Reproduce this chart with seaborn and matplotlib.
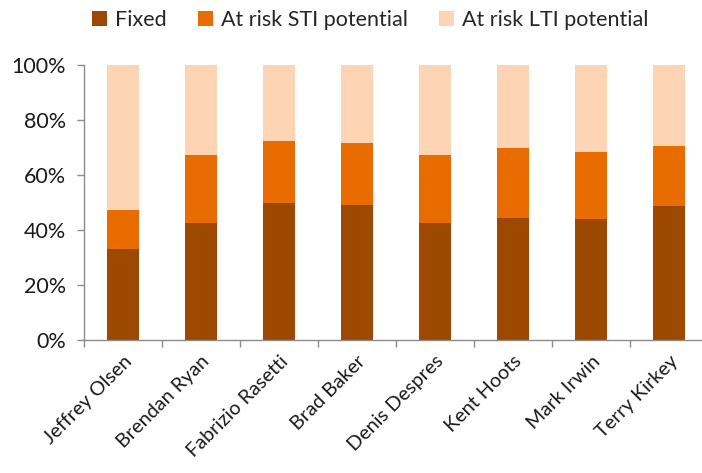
import matplotlib
matplotlib.use("Agg")
import matplotlib.pyplot as plt
import seaborn as sns
import numpy as np
import pandas as pd
from matplotlib.patches import Patch
from matplotlib.ticker import FixedLocator, PercentFormatter

# ------------------------------------------------------------------
# data (shares of total pay, in %)
# ------------------------------------------------------------------
names = ["Jeffrey Olsen", "Brendan Ryan", "Fabrizio Rasetti", "Brad Baker",
         "Denis Despres", "Kent Hoots", "Mark Irwin", "Terry Kirkey"]
fixed = [33.0, 42.7, 49.7, 49.2, 42.7, 44.5, 44.0, 48.6]
sti = [14.3, 24.6, 22.8, 22.5, 24.6, 25.4, 24.5, 21.9]
lti = [100 - f - s for f, s in zip(fixed, sti)]

series = ["Fixed", "At risk STI potential", "At risk LTI potential"]
colors = ["#9C4800", "#E86C00", "#FDD5B4"]

df = pd.DataFrame({"name": names, "Fixed": fixed, "STI": sti, "LTI": lti})
df["top_sti"] = df["Fixed"] + df["STI"]
df["top_lti"] = df["top_sti"] + df["LTI"]

# ------------------------------------------------------------------
# figure
# ------------------------------------------------------------------
sns.set_style("white")
plt.rcParams["font.family"] = ["Lato", "DejaVu Sans"]

fig = plt.figure(figsize=(7.02, 4.73), dpi=100)
ax = fig.add_axes([84 / 702, 1 - 340 / 473, 624 / 702, 275 / 473])

# stacked bars drawn as overlapping cumulative totals
for col, color in zip(["top_lti", "top_sti", "Fixed"], colors[::-1]):
    sns.barplot(data=df, x="name", y=col, color=color, width=0.41,
                saturation=1, ax=ax, linewidth=0)

ax.set_ylim(0, 100)
ax.set_xlim(-0.5, len(names) - 0.5)
ax.set_xlabel("")
ax.set_ylabel("")
ax.yaxis.set_major_locator(FixedLocator([0, 20, 40, 60, 80, 100]))
ax.yaxis.set_major_formatter(PercentFormatter(decimals=0))

# Excel-style category ticks between bars
ax.set_xticks(np.arange(len(names)))
ax.set_xticklabels(names, rotation=45, ha="right", rotation_mode="anchor")
ax.xaxis.set_minor_locator(FixedLocator(np.arange(-0.5, len(names), 1.0)))
ax.tick_params(axis="x", which="major", length=0, pad=9, labelsize=14.3,
               colors="#1a1a1a")
ax.tick_params(axis="x", which="minor", length=5, width=1, color="#8c8c8c",
               direction="out", bottom=True)
ax.tick_params(axis="y", length=5, width=1, color="#8c8c8c", direction="out",
               left=True, labelsize=15.5, labelcolor="#1a1a1a", pad=8)

for side in ["top", "right"]:
    ax.spines[side].set_visible(False)
for side in ["left", "bottom"]:
    ax.spines[side].set_color("#8c8c8c")
    ax.spines[side].set_linewidth(1)

handles = [Patch(facecolor=c, edgecolor="none") for c in colors]
fig.legend(handles, series, loc="center", bbox_to_anchor=(0.527, 0.958),
           ncol=3, frameon=False, fontsize=15.5, handlelength=0.72,
           handleheight=0.72, handletextpad=0.35, columnspacing=1.45)

fig.savefig("out.png", dpi=100)
